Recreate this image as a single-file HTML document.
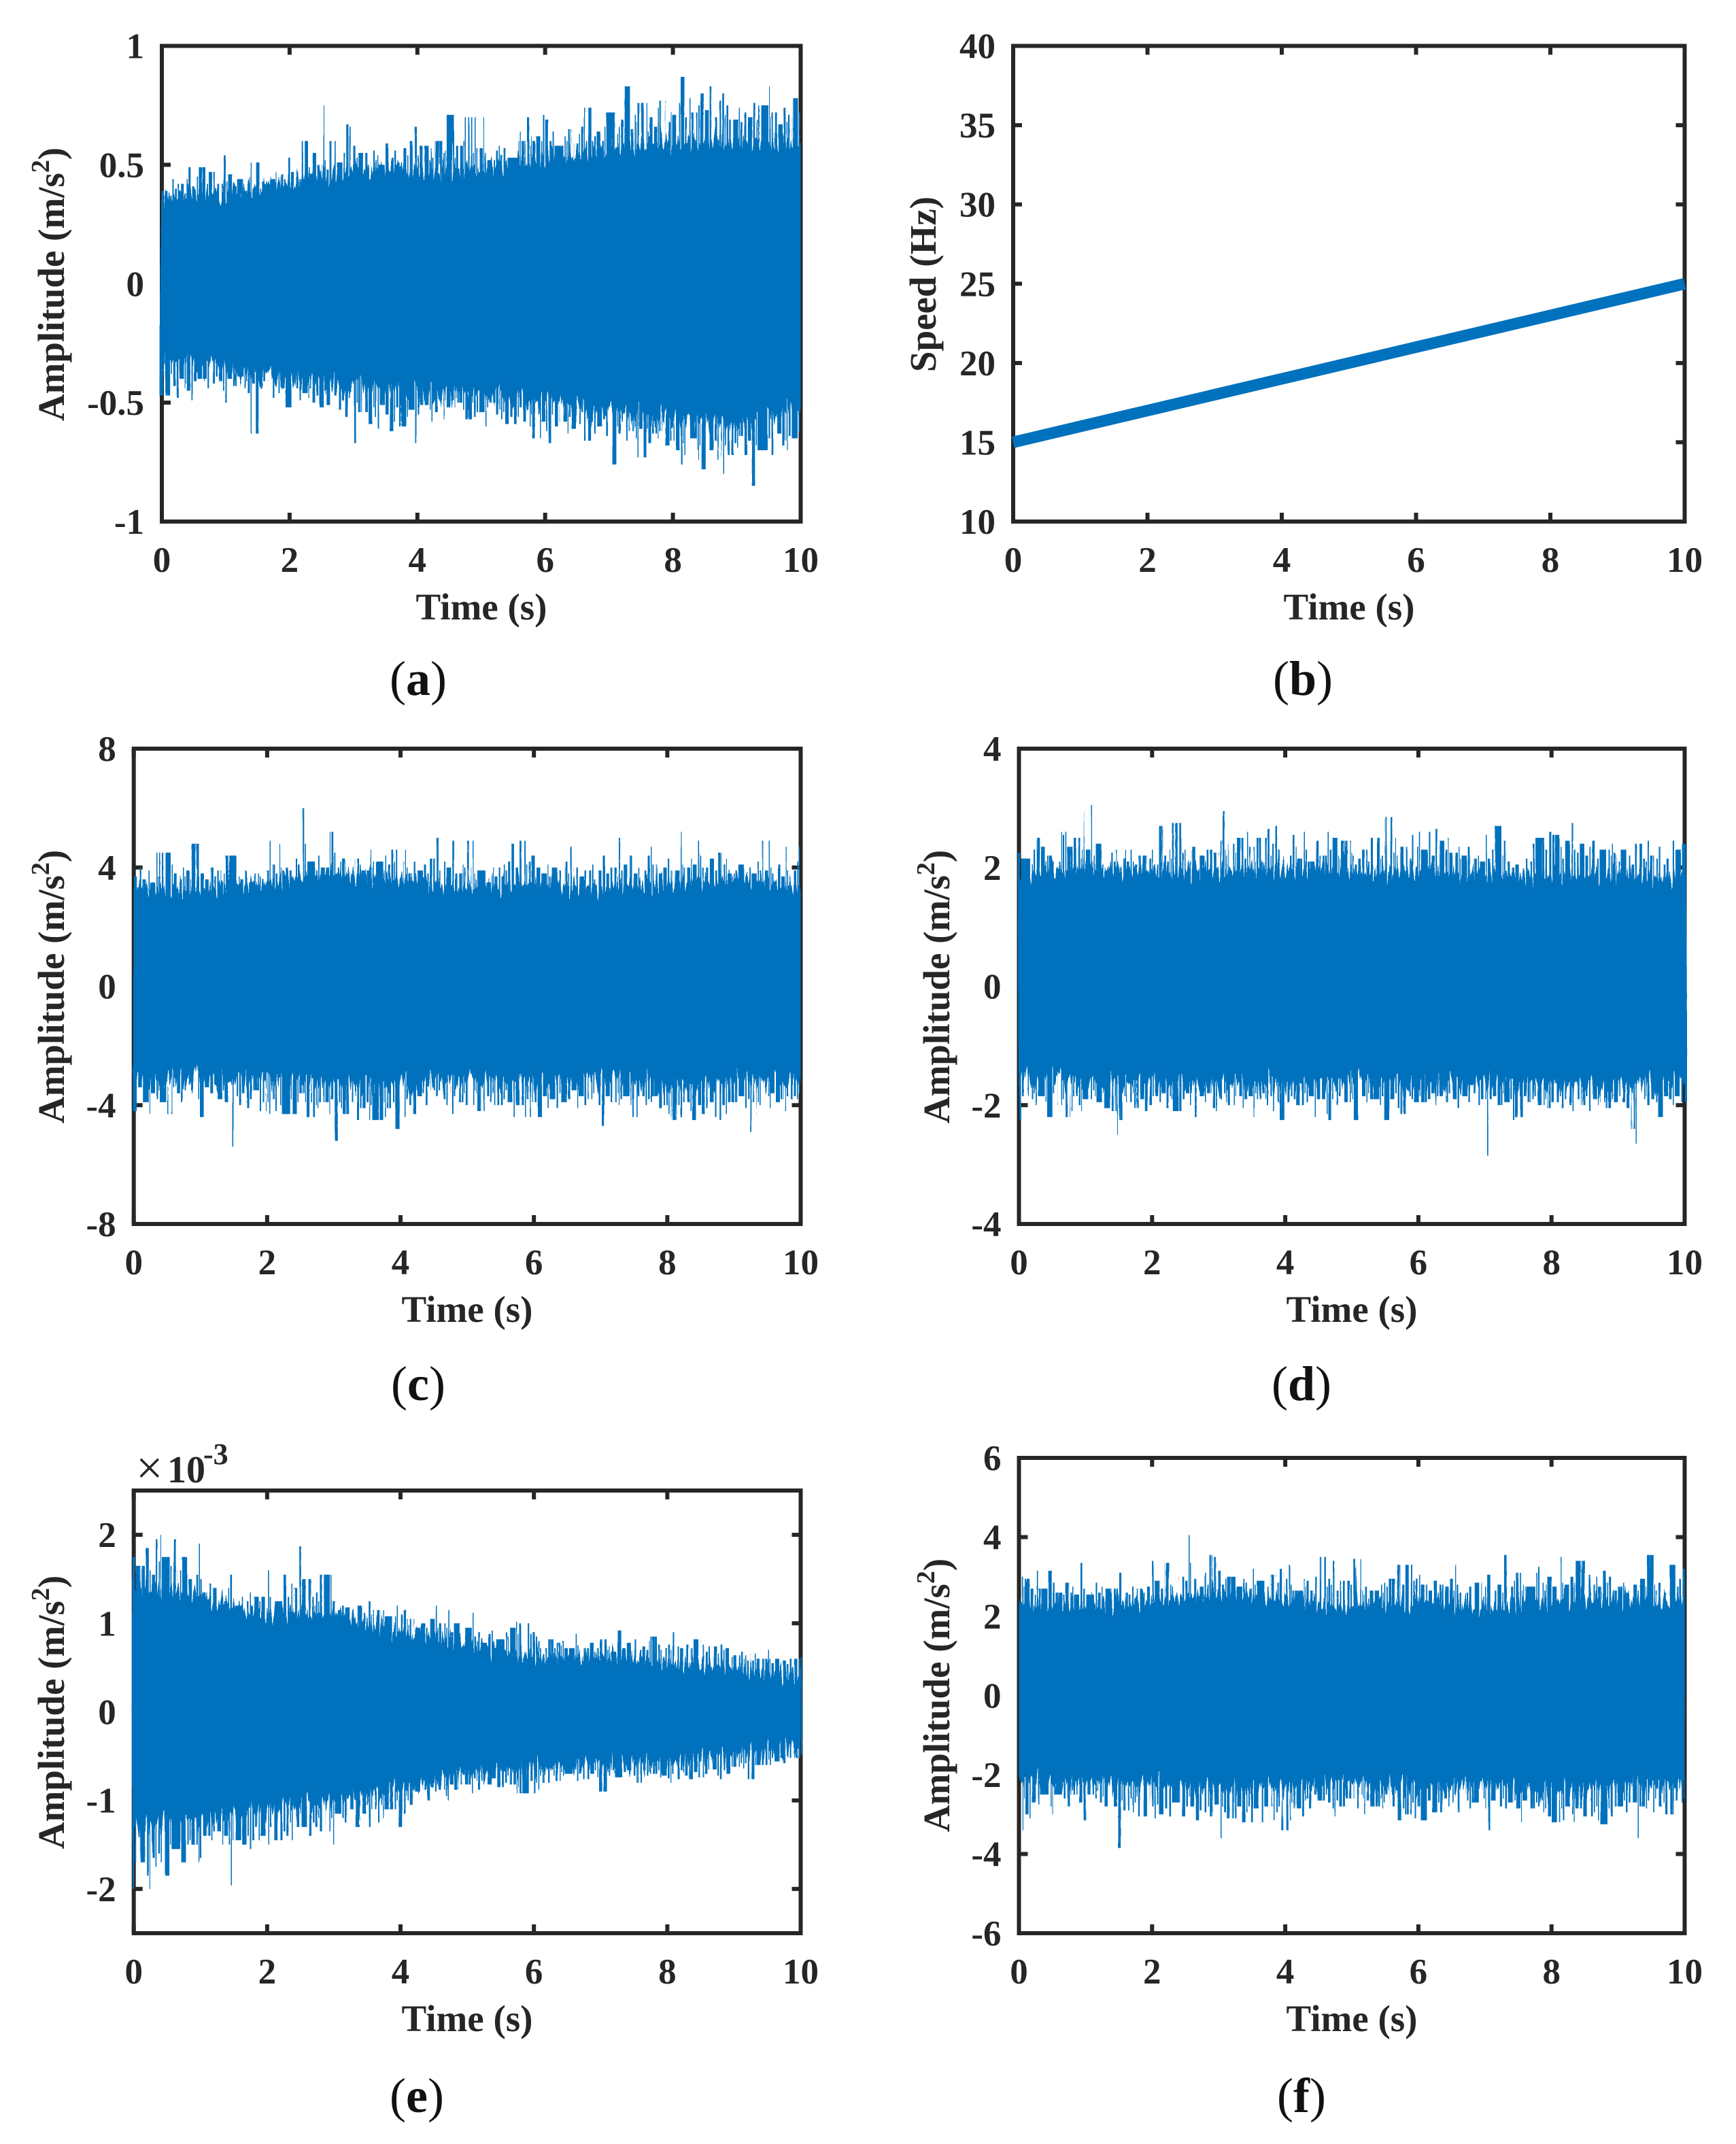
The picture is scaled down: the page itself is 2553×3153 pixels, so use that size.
<!DOCTYPE html>
<html lang="en">
<head>
<meta charset="utf-8">
<title>Vibration signal panels</title>
<style>
html,body{margin:0;padding:0;background:#fff;}
svg{display:block;}
text{font-family:"Liberation Serif",serif;fill:#262626;}
.axis-title{font-weight:bold;font-size:55px;}
.tick-label{font-weight:bold;font-size:53px;}
.caption{font-size:72px;fill:#111;}
.caption tspan{font-weight:bold;font-size:72px;fill:#111;}
</style>
</head>
<body>
<svg id="figure" xmlns="http://www.w3.org/2000/svg" width="2553" height="3153" viewBox="0 0 2553 3153">
  <defs>
    <filter id="edge-rough" x="-3%" y="-6%" width="106%" height="112%" color-interpolation-filters="sRGB">
      <feTurbulence type="fractalNoise" baseFrequency="0.28 0.0008" numOctaves="2" seed="7"/>
      <feColorMatrix values="1 0 0 0 0  0 0 0 0 0.5  0 0 0 0 0  0 0 0 0 1" result="n"/>
      <feDisplacementMap in="SourceGraphic" in2="n" scale="70" xChannelSelector="G" yChannelSelector="R"/>
    </filter>
    <filter id="spike-warp" x="-3%" y="-3%" width="106%" height="106%" color-interpolation-filters="sRGB">
      <feTurbulence type="fractalNoise" baseFrequency="0.09 0.0006" numOctaves="2" seed="11"/>
      <feColorMatrix values="1 0 0 0 0  0 0 0 0 0.5  0 0 0 0 0  0 0 0 0 1" result="n"/>
      <feDisplacementMap in="SourceGraphic" in2="n" scale="28" xChannelSelector="R" yChannelSelector="G"/>
    </filter>
  </defs>
  <rect x="0" y="0" width="2553" height="3153" fill="#ffffff"/>
  <g id="plots"></g>

  <text class="axis-title" x="708" y="911" text-anchor="middle">Time (s)</text>
  <text class="axis-title" x="1984" y="911" text-anchor="middle">Time (s)</text>
  <text class="axis-title" x="687" y="1944" text-anchor="middle">Time (s)</text>
  <text class="axis-title" x="1988" y="1944" text-anchor="middle">Time (s)</text>
  <text class="axis-title" x="687" y="2987" text-anchor="middle">Time (s)</text>
  <text class="axis-title" x="1988" y="2987" text-anchor="middle">Time (s)</text>

  <text class="axis-title" transform="translate(94,418) rotate(-90)" text-anchor="middle">Amplitude (m/s<tspan dy="-22" font-size="38">2</tspan><tspan dy="22">)</tspan></text>
  <text class="axis-title" transform="translate(1376,418) rotate(-90)" text-anchor="middle">Speed (Hz)</text>
  <text class="axis-title" transform="translate(94,1451) rotate(-90)" text-anchor="middle">Amplitude (m/s<tspan dy="-22" font-size="38">2</tspan><tspan dy="22">)</tspan></text>
  <text class="axis-title" transform="translate(1396,1451) rotate(-90)" text-anchor="middle">Amplitude (m/s<tspan dy="-22" font-size="38">2</tspan><tspan dy="22">)</tspan></text>
  <text class="axis-title" transform="translate(94,2518) rotate(-90)" text-anchor="middle">Amplitude (m/s<tspan dy="-22" font-size="38">2</tspan><tspan dy="22">)</tspan></text>
  <text class="axis-title" transform="translate(1396,2493) rotate(-90)" text-anchor="middle">Amplitude (m/s<tspan dy="-22" font-size="38">2</tspan><tspan dy="22">)</tspan></text>

  <text x="200" y="2182" font-size="70">×<tspan x="246" y="2180" font-size="56" font-weight="bold">10</tspan><tspan x="299" y="2153" font-size="44" font-weight="bold">-3</tspan></text>

  <text class="caption" x="615" y="1022" text-anchor="middle">(<tspan>a</tspan>)</text>
  <text class="caption" x="1916" y="1022" text-anchor="middle">(<tspan>b</tspan>)</text>
  <text class="caption" x="615" y="2059" text-anchor="middle">(<tspan>c</tspan>)</text>
  <text class="caption" x="1914" y="2059" text-anchor="middle">(<tspan>d</tspan>)</text>
  <text class="caption" x="613" y="3106" text-anchor="middle">(<tspan>e</tspan>)</text>
  <text class="caption" x="1914" y="3106" text-anchor="middle">(<tspan>f</tspan>)</text>
</svg>

<script>
// ----- shared axis data -----
const timeTicks = [0, 2, 4, 6, 8, 10];
const timeTickLabels = ['0', '2', '4', '6', '8', '10'];

// ----- panel b: speed -----
const speedTimes = [0, 10];
const speedValues = [15, 25];
const speedTicks = [10, 15, 20, 25, 30, 35, 40];
const speedTickLabels = ['10', '15', '20', '25', '30', '35', '40'];

// ----- panel a -----
const aTicks = [-1, -0.5, 0, 0.5, 1];
const aTickLabels = ['-1', '-0.5', '0', '0.5', '1'];
const aBodyUpper = [.36, .38, .43, .48, .48, .48, .53, .56, .59, .60, .58];
const aBodyLower = [-.32, -.36, -.40, -.43, -.45, -.46, -.50, -.54, -.58, -.59, -.53];
const aPeakUpper = [
.39,.37,.44,.40,.42,.38,.44,.49,.41,.45,.49,.42,.47,.40,.42,.54,
.43,.46,.41,.44,.39,.42,.45,.51,.40,.43,.42,.44,.47,.41,.46,.44,
.53,.47,.44,.60,.49,.46,.55,.50,.75,.52,.48,.60,.51,.55,.67,.66,
.58,.53,.55,.50,.56,.52,.54,.50,.59,.53,.56,.51,.57,.54,.60,.66,
.54,.58,.52,.57,.53,.60,.55,.56,.71,.53,.58,.60,.70,.55,.70,.57,
.70,.55,.52,.56,.58,.54,.57,.53,.60,.64,.60,.70,.58,.62,.60,.71,
.69,.60,.64,.58,.62,.60,.65,.59,.63,.66,.74,.60,.62,.64,.60,.66,
.72,.63,.66,.69,.83,.65,.71,.68,.76,.64,.70,.66,.74,.77,.68,.72,
.71,.76,.87,.70,.78,.72,.75,.80,.73,.83,.70,.77,.80,.71,.75,.69,
.74,.68,.72,.70,.76,.69,.75,.83,.70,.72,.67,.74,.68,.71,.78,.72
];
const aPeakLower = [
-.47,-.38,-.43,-.48,-.40,-.44,-.42,-.45,-.49,-.41,-.40,-.44,-.42,-.39,-.41,-.45,
-.50,-.40,-.43,-.39,-.44,-.41,-.46,-.63,-.42,-.44,-.41,-.48,-.43,-.40,-.46,-.44,
-.52,-.44,-.49,-.46,-.48,-.44,-.50,-.47,-.52,-.45,-.51,-.47,-.53,-.49,-.56,-.48,
-.67,-.50,-.54,-.59,-.52,-.56,-.61,-.51,-.55,-.62,-.58,-.52,-.60,-.56,-.53,-.67,
-.55,-.51,-.53,-.58,-.50,-.54,-.57,-.49,-.52,-.48,-.50,-.53,-.57,-.50,-.56,-.54,
-.60,-.52,-.50,-.55,-.53,-.57,-.54,-.59,-.56,-.52,-.58,-.53,-.60,-.55,-.65,-.58,
-.62,-.67,-.55,-.60,-.58,-.63,-.56,-.61,-.59,-.54,-.66,-.58,-.63,-.60,-.57,-.64,
-.76,-.60,-.63,-.58,-.66,-.62,-.60,-.65,-.73,-.61,-.67,-.63,-.65,-.62,-.68,-.66,
-.70,-.76,-.67,-.72,-.65,-.70,-.74,-.68,-.78,-.70,-.66,-.74,-.80,-.68,-.72,-.67,
-.69,-.64,-.72,-.66,-.85,-.68,-.70,-.65,-.72,-.63,-.68,-.66,-.70,-.64,-.65,-.62
];

// ----- panel c -----
const cTicks = [-8, -4, 0, 4, 8];
const cTickLabels = ['-8', '-4', '0', '4', '8'];
const cBodyUpper = [3.3, 3.3, 3.5, 3.8, 3.6, 3.3, 3.5, 3.3, 3.5, 3.6, 3.4];
const cBodyLower = [-3.0, -3.1, -3.1, -3.3, -3.4, -3.1, -3.3, -3.1, -3.4, -3.2, -3.1];
const cPeakUpper = [
3.7,4.0,3.6,3.9,3.5,4.5,3.7,4.5,4.1,3.8,3.6,4.0,3.7,3.9,3.6,4.8,
3.8,3.6,4.0,3.7,3.9,3.5,3.8,4.4,3.4,3.7,3.6,3.9,3.5,3.8,3.7,3.9,
4.9,4.1,3.8,4.8,4.0,3.9,4.3,4.1,6.0,4.8,4.2,3.9,4.4,4.0,5.2,5.2,
4.5,4.0,4.2,4.3,3.9,4.3,4.1,3.9,4.6,4.0,4.2,3.9,4.4,4.1,4.6,4.2,
4.6,4.0,3.8,4.2,3.9,4.1,3.8,4.3,5.0,3.9,4.2,4.0,4.9,3.8,4.1,4.0,
4.9,3.8,3.6,3.9,3.5,3.8,4.0,3.7,4.1,3.9,4.2,4.8,4.0,4.9,4.1,4.2,
4.4,4.0,3.8,4.1,3.7,4.0,3.9,4.2,3.8,4.7,4.0,3.7,3.9,4.1,3.6,3.9,
4.4,3.8,4.0,3.7,5.0,3.9,4.1,4.4,3.8,4.0,3.9,4.4,4.7,4.1,3.8,4.0,
4.3,3.9,5.2,4.1,4.0,4.3,4.1,4.9,4.4,4.0,4.3,3.9,4.5,4.1,4.3,3.8,
3.9,4.1,3.7,4.0,3.8,4.2,3.9,4.9,4.0,3.8,4.1,3.7,4.7,3.9,4.2,4.7
];
const cPeakLower = [
-4.2,-3.4,-3.9,-4.3,-3.6,-3.8,-3.5,-3.9,-4.3,-3.4,-3.6,-3.9,-3.5,-3.3,-3.5,-3.8,
-4.4,-3.4,-3.6,-3.3,-3.8,-3.5,-3.9,-5.4,-3.7,-4.0,-3.6,-4.1,-3.8,-3.5,-4.2,-3.9,
-4.3,-3.8,-4.2,-4.0,-4.3,-3.8,-4.3,-3.9,-3.6,-3.9,-4.4,-4.0,-4.1,-3.9,-4.3,-3.8,
-5.2,-3.9,-4.1,-4.3,-3.9,-4.5,-4.1,-3.9,-4.5,-4.0,-4.5,-3.9,-4.4,-4.1,-3.9,-4.8,
-4.4,-3.8,-4.0,-4.3,-3.7,-3.6,-4.0,-3.5,-3.7,-3.5,-3.8,-4.0,-4.3,-3.7,-3.9,-3.6,
-4.0,-3.5,-3.6,-4.2,-3.7,-3.9,-3.6,-4.0,-3.8,-3.5,-3.9,-4.4,-4.0,-4.4,-3.8,-4.4,
-3.9,-4.4,-3.7,-4.1,-3.8,-4.1,-3.6,-3.9,-3.8,-3.5,-4.1,-3.7,-4.0,-3.8,-3.6,-4.0,
-4.7,-3.7,-3.9,-3.6,-4.0,-3.8,-3.7,-4.0,-4.4,-3.7,-4.0,-3.8,-3.9,-3.7,-4.1,-4.0,
-4.3,-4.5,-4.0,-4.4,-3.9,-4.2,-4.5,-4.0,-4.3,-4.1,-3.9,-4.4,-4.5,-4.0,-4.3,-3.9,
-3.9,-3.7,-4.1,-3.8,-4.9,-3.9,-4.0,-3.7,-4.1,-3.6,-3.9,-3.8,-4.2,-3.7,-3.8,-3.6
];

// ----- panel d -----
const dTicks = [-4, -2, 0, 2, 4];
const dTickLabels = ['-4', '-2', '0', '2', '4'];
const dBodyUpper = [1.9, 2.0, 1.95, 1.95, 2.0, 1.9, 1.95, 1.9, 1.85, 1.9, 1.8];
const dBodyLower = [-1.55, -1.6, -1.6, -1.65, -1.65, -1.6, -1.6, -1.6, -1.7, -1.7, -1.65];
const dPeakUpper = [
2.25,2.15,2.05,2.3,2.5,2.35,2.1,2.2,2.1,2.6,2.55,2.6,2.35,2.5,2.15,2.3,
3.05,2.1,2.2,2.4,2.05,2.25,2.1,2.3,2.0,2.15,2.3,2.1,2.05,2.2,2.15,2.3,
2.05,2.7,2.2,2.1,2.3,2.15,2.75,2.25,2.3,2.1,2.35,2.2,2.1,2.3,2.25,2.45,
2.95,2.3,2.2,2.4,2.25,2.5,2.15,2.6,2.35,2.1,2.5,2.65,2.2,2.4,2.7,2.3,
2.2,2.55,2.35,2.15,2.6,2.3,2.1,2.45,2.2,2.6,2.3,2.5,2.2,2.15,2.45,2.25,
2.2,2.05,2.15,2.3,2.1,2.5,2.15,2.2,2.85,2.25,2.5,2.2,2.35,2.15,2.55,2.35,
2.6,2.3,2.6,2.2,2.65,2.45,2.3,2.5,2.25,2.35,2.15,2.2,2.35,2.15,2.2,2.1,
2.55,2.15,2.3,2.7,2.2,2.45,2.1,2.0,2.05,2.15,1.95,2.1,2.4,2.5,2.3,2.6,
2.55,2.35,2.15,2.45,2.75,2.3,2.25,2.4,2.2,2.35,2.45,2.15,2.3,2.2,2.4,2.25,
2.1,2.3,2.2,2.05,2.4,2.15,2.1,2.45,2.2,2.15,2.35,2.05,2.15,2.45,2.3,2.4
];
const dPeakLower = [
-2.25,-1.85,-1.9,-1.8,-2.0,-1.85,-1.95,-2.2,-1.8,-2.0,-1.9,-2.2,-2.1,-1.85,-2.0,-2.1,
-1.9,-1.75,-1.85,-1.95,-1.8,-2.05,-2.1,-2.5,-2.25,-1.85,-1.95,-1.8,-2.05,-1.9,-2.1,-2.0,
-1.85,-1.95,-1.8,-2.05,-1.85,-1.9,-2.1,-1.9,-1.8,-2.0,-2.2,-1.85,-1.95,-1.8,-2.05,-2.1,
-1.9,-1.8,-1.95,-2.0,-1.85,-2.05,-1.9,-1.85,-2.2,-1.8,-1.9,-2.0,-1.85,-2.1,-1.95,-2.25,
-1.95,-1.85,-1.9,-2.0,-1.8,-1.95,-1.85,-2.2,-1.9,-2.15,-2.25,-1.9,-2.0,-1.85,-1.95,-1.8,
-1.9,-2.25,-1.85,-1.95,-1.8,-1.9,-2.0,-1.85,-2.25,-1.9,-1.8,-2.05,-2.15,-1.85,-1.9,-1.95,
-1.85,-1.95,-1.9,-1.8,-2.0,-1.85,-1.95,-1.8,-1.9,-2.05,-1.8,-1.85,-1.95,-1.8,-2.0,-1.9,
-2.85,-1.9,-1.85,-2.0,-1.8,-1.95,-1.9,-2.25,-2.2,-1.85,-1.95,-1.9,-1.85,-2.0,-1.9,-2.05,
-1.95,-1.85,-2.05,-1.9,-2.0,-2.1,-1.9,-2.0,-1.85,-2.1,-1.9,-2.0,-1.95,-2.05,-1.9,-1.95,
-1.85,-1.95,-2.05,-2.4,-2.65,-1.9,-1.85,-2.0,-1.9,-1.95,-2.2,-1.85,-1.9,-2.0,-1.85,-1.95
];

// ----- panel e -----
const eTicks = [-2, -1, 0, 1, 2];
const eTickLabels = ['-2', '-1', '0', '1', '2'];
const eBodyUpper = [1.42, 1.32, 1.1, 1.12, .9, .77, .64, .62, .57, .5, .4];
const eBodyLower = [-1.3, -1.26, -1.09, -1.02, -.87, -.7, -.65, -.6, -.59, -.48, -.4];
const ePeakUpper = [
1.75,1.65,1.85,1.6,1.55,1.95,1.7,2.0,1.75,1.65,1.95,1.6,1.75,1.5,1.55,1.9,
1.5,1.35,1.45,1.4,1.3,1.25,1.4,1.55,1.2,1.3,1.25,1.35,1.2,1.3,1.25,1.3,
1.6,1.3,1.25,1.55,1.3,1.2,1.45,1.4,1.87,1.5,1.3,1.2,1.35,1.25,1.55,1.55,
1.25,1.15,1.2,1.18,1.1,1.2,1.12,1.05,1.25,1.1,1.15,1.05,1.15,1.08,1.2,1.1,
1.15,1.05,.98,1.05,.95,1.0,.95,1.05,1.2,.95,1.0,.95,1.15,.9,1.0,.95,
1.12,.85,.8,.9,.78,.88,.92,.82,.9,.85,.95,1.02,.88,1.0,.88,.9,
.85,.8,.72,.82,.72,.78,.75,.8,.72,.88,.75,.7,.72,.78,.68,.72,
.82,.7,.74,.68,.92,.72,.78,.82,.7,.74,.7,.8,.85,.76,.7,.72,
.76,.7,.9,.74,.72,.76,.72,.82,.76,.68,.74,.66,.76,.7,.72,.62,
.64,.68,.6,.64,.58,.66,.6,.7,.6,.55,.6,.52,.58,.54,.6,.62
];
const ePeakLower = [
-2.0,-1.7,-1.85,-2.0,-1.65,-1.75,-1.6,-1.7,-1.85,-1.5,-1.55,-1.7,-1.5,-1.45,-1.5,-1.7,
-1.65,-1.4,-1.45,-1.35,-1.5,-1.4,-1.5,-1.96,-1.45,-1.5,-1.4,-1.55,-1.45,-1.3,-1.45,-1.4,
-1.5,-1.3,-1.45,-1.35,-1.4,-1.25,-1.45,-1.3,-1.15,-1.3,-1.4,-1.25,-1.3,-1.2,-1.35,-1.2,
-1.5,-1.15,-1.2,-1.25,-1.1,-1.3,-1.15,-1.05,-1.3,-1.1,-1.25,-1.05,-1.2,-1.1,-1.0,-1.3,
-1.15,-.95,-1.0,-1.05,-.9,-.88,-1.0,-.85,-.9,-.82,-.88,-.95,-1.0,-.82,-.88,-.82,
-.92,-.75,-.78,-.88,-.78,-.82,-.75,-.85,-.8,-.72,-.82,-.92,-.85,-.92,-.78,-.92,
-.8,-.88,-.72,-.8,-.72,-.78,-.68,-.72,-.7,-.65,-.78,-.7,-.76,-.7,-.66,-.74,
-.9,-.68,-.72,-.66,-.74,-.68,-.66,-.72,-.8,-.66,-.72,-.68,-.7,-.66,-.74,-.72,
-.75,-.8,-.7,-.76,-.66,-.72,-.76,-.68,-.74,-.7,-.65,-.72,-.76,-.66,-.7,-.62,
-.62,-.58,-.64,-.58,-.76,-.6,-.6,-.54,-.6,-.52,-.56,-.52,-.58,-.5,-.52,-.48
];

// ----- panel f -----
const fTicks = [-6, -4, -2, 0, 2, 4, 6];
const fTickLabels = ['-6', '-4', '-2', '0', '2', '4', '6'];
const fBodyUpper = [2.3, 2.3, 2.4, 2.6, 2.45, 2.25, 2.4, 2.25, 2.4, 2.45, 2.35];
const fBodyLower = [-2.1, -2.25, -2.25, -2.35, -2.35, -2.2, -2.35, -2.25, -2.4, -2.3, -2.2];
const fPeakUpper = [
3.0,2.75,2.95,2.7,2.55,3.15,2.7,3.15,2.85,2.6,2.55,2.85,2.6,2.75,2.55,3.35,
2.7,2.55,2.85,2.6,2.75,2.45,2.7,3.1,2.4,2.6,2.55,2.75,2.45,2.7,2.6,2.75,
3.4,2.9,2.7,3.35,2.8,2.75,3.0,2.9,4.05,3.35,2.95,2.75,3.1,2.8,3.55,3.5,
3.15,2.8,2.95,3.0,2.75,2.95,2.85,2.7,3.2,2.8,2.9,2.75,3.05,2.85,3.2,2.95,
3.3,2.8,2.65,2.95,2.75,2.9,2.65,3.0,3.5,2.75,2.95,2.8,3.4,2.65,2.9,2.8,
3.45,2.65,2.55,2.75,2.45,2.65,2.8,2.6,2.85,2.75,2.95,3.3,2.8,3.3,2.9,2.95,
3.05,2.8,2.65,2.9,2.6,2.8,2.75,2.95,2.65,3.3,2.8,2.6,2.75,2.85,2.5,2.75,
3.05,2.65,2.8,2.6,3.55,2.75,2.9,3.1,2.65,2.8,2.75,3.1,3.25,2.85,2.65,2.8,
3.0,2.75,3.5,2.85,2.8,3.0,2.85,3.4,3.05,2.8,3.0,2.75,3.15,2.85,3.0,2.65,
2.75,2.85,2.6,2.8,2.65,2.95,2.75,3.55,2.8,2.65,2.85,2.6,3.3,2.75,2.95,3.2
];
const fPeakLower = [
-3.4,-2.6,-3.0,-3.1,-2.7,-2.75,-2.5,-2.8,-3.0,-2.5,-2.6,-2.8,-2.5,-2.4,-2.5,-2.7,
-3.15,-2.5,-2.6,-2.4,-2.7,-2.55,-2.8,-3.85,-2.65,-2.9,-2.6,-2.95,-2.7,-2.55,-3.05,-2.8,
-3.1,-2.75,-3.0,-2.85,-3.05,-2.7,-3.05,-2.8,-2.55,-2.8,-3.15,-2.9,-2.95,-2.8,-3.05,-2.75,
-3.6,-2.8,-2.95,-3.1,-2.8,-3.2,-2.95,-2.8,-3.2,-2.85,-3.2,-2.8,-3.15,-2.95,-2.8,-3.4,
-3.15,-2.7,-2.85,-3.05,-2.65,-2.6,-2.85,-2.5,-2.65,-2.5,-2.7,-2.85,-3.05,-2.65,-2.8,-2.6,
-2.85,-2.5,-2.6,-3.0,-2.65,-2.8,-2.6,-2.85,-2.7,-2.5,-2.8,-3.15,-2.85,-3.0,-2.7,-3.1,
-2.8,-3.15,-2.65,-2.95,-2.7,-2.95,-2.6,-2.8,-2.7,-2.5,-2.95,-2.65,-2.85,-2.7,-2.6,-2.85,
-3.4,-2.65,-2.8,-2.6,-2.85,-2.7,-2.65,-2.85,-3.2,-2.65,-2.85,-2.7,-2.8,-2.65,-2.95,-2.85,
-3.05,-3.2,-2.85,-3.15,-2.8,-3.0,-3.2,-2.85,-3.05,-2.95,-2.8,-3.15,-3.25,-2.85,-3.05,-2.8,
-2.8,-2.65,-2.95,-2.7,-3.6,-2.8,-2.85,-2.65,-2.95,-2.6,-2.8,-2.7,-3.0,-2.65,-2.7,-2.6
];

// ----- drawing -----
const NS = 'http://www.w3.org/2000/svg';
const INK = '#262626';
const BLUE = '#0071BD';
const plots = document.getElementById('plots');

function make(parent, tag, attrs) {
  const el = document.createElementNS(NS, tag);
  for (const k in attrs) el.setAttribute(k, attrs[k]);
  parent.appendChild(el);
  return el;
}

function drawAxes(id, box, yMin, yMax, yTicks, yLabels) {
  const g = make(plots, 'g', {});
  
  
  const sx = t => box.x0 + (t - timeTicks[0]) / (timeTicks[timeTicks.length - 1] - timeTicks[0]) * (box.x1 - box.x0);
  const sy = v => box.y1 - (v - yMin) / (yMax - yMin) * (box.y1 - box.y0);

  const frame = make(g, 'rect', {x: box.x0, y: box.y0, width: box.x1 - box.x0, height: box.y1 - box.y0, fill: '#fff', stroke: INK, 'stroke-width': 6});
  
  

  let d = '';
  timeTicks.forEach(t => {
    d += 'M' + sx(t) + ' ' + box.y1 + 'v-13M' + sx(t) + ' ' + box.y0 + 'v13';
  });
  yTicks.forEach(v => {
    d += 'M' + box.x0 + ' ' + sy(v) + 'h13M' + box.x1 + ' ' + sy(v) + 'h-13';
  });
  const ticks = make(g, 'path', {d: d, stroke: INK, 'stroke-width': 6, fill: 'none'});
  
  

  timeTicks.forEach((t, i) => {
    const label = make(g, 'text', {class: 'tick-label', x: sx(t), y: box.y1 + 74, 'text-anchor': 'middle'});
    label.textContent = timeTickLabels[i];
    
    
  });
  yTicks.forEach((v, i) => {
    const label = make(g, 'text', {class: 'tick-label', x: box.x0 - 26, y: sy(v) + 18, 'text-anchor': 'end'});
    label.textContent = yLabels[i];
    
    
  });
  return {g, sx, sy};
}

function drawSignal(id, box, yMin, yMax, yTicks, yLabels, bodyUpper, bodyLower, peakUpper, peakLower) {
  const {g, sx, sy} = drawAxes(id, box, yMin, yMax, yTicks, yLabels);
  const tMax = timeTicks[timeTicks.length - 1];

  let d = '';
  peakUpper.forEach((v, i) => {
    const x = sx((i + 0.5) / peakUpper.length * tMax);
    d += 'M' + x.toFixed(1) + ' ' + sy(0).toFixed(1) + 'V' + sy(v).toFixed(1);
  });
  peakLower.forEach((v, i) => {
    const x = sx((i + 0.5) / peakLower.length * tMax);
    d += 'M' + x.toFixed(1) + ' ' + sy(0).toFixed(1) + 'V' + sy(v).toFixed(1);
  });
  const peaks = make(g, 'path', {d: d, stroke: BLUE, 'stroke-width': 3.6, fill: 'none', filter: 'url(#spike-warp)'});
  
  

  const top = bodyUpper.map((v, i) => sx(i / (bodyUpper.length - 1) * tMax) + ',' + sy(v));
  const bottom = bodyLower.map((v, i) => sx(i / (bodyLower.length - 1) * tMax) + ',' + sy(v)).reverse();
  const body = make(g, 'polygon', {points: top.concat(bottom).join(' '), fill: BLUE, filter: 'url(#edge-rough)'});
  
  
}

drawSignal('a', {x0: 238, x1: 1177.5, y0: 67.5, y1: 767}, -1, 1, aTicks, aTickLabels, aBodyUpper, aBodyLower, aPeakUpper, aPeakLower);

const speedAxes = drawAxes('b', {x0: 1490, x1: 2477.5, y0: 67.5, y1: 767}, 10, 40, speedTicks, speedTickLabels);
const speedLine = make(speedAxes.g, 'polyline', {
  points: speedTimes.map((t, i) => speedAxes.sx(t) + ',' + speedAxes.sy(speedValues[i])).join(' '),
  fill: 'none', stroke: BLUE, 'stroke-width': 17
});



drawSignal('c', {x0: 196.7, x1: 1177.5, y0: 1101, y1: 1800}, -8, 8, cTicks, cTickLabels, cBodyUpper, cBodyLower, cPeakUpper, cPeakLower);
drawSignal('d', {x0: 1498.5, x1: 2477.5, y0: 1101, y1: 1800}, -4, 4, dTicks, dTickLabels, dBodyUpper, dBodyLower, dPeakUpper, dPeakLower);
drawSignal('e', {x0: 196.7, x1: 1177.5, y0: 2192, y1: 2843}, -2.5, 2.5, eTicks, eTickLabels, eBodyUpper, eBodyLower, ePeakUpper, ePeakLower);
drawSignal('f', {x0: 1498.5, x1: 2477.5, y0: 2144, y1: 2843}, -6, 6, fTicks, fTickLabels, fBodyUpper, fBodyLower, fPeakUpper, fPeakLower);
</script>
</body>
</html>
